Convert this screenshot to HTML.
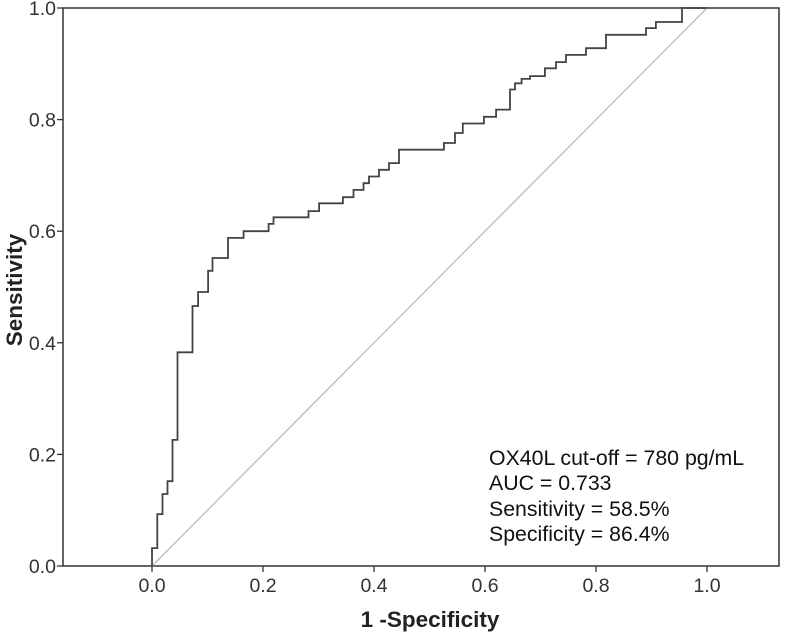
<!DOCTYPE html>
<html><head><meta charset="utf-8"><style>
body{margin:0;background:#fff}
svg{display:block;font-family:"Liberation Sans",Arial,sans-serif}
</style></head><body>
<svg id="chart" width="787" height="636" viewBox="0 0 787 636">
<rect width="787" height="636" fill="#fff"/>
<g id="plot"></g>
<text x="430" y="627" text-anchor="middle" font-size="22.5" font-weight="bold" fill="#222">1 -Specificity</text>
<text transform="translate(22,290) rotate(-90)" text-anchor="middle" font-size="22.5" font-weight="bold" fill="#222">Sensitivity</text>
<g font-size="21.3" fill="#111">
<text x="489" y="465">OX40L cut-off = 780 pg/mL</text>
<text x="489" y="490">AUC  = 0.733</text>
<text x="489" y="516">Sensitivity = 58.5%</text>
<text x="489" y="541">Specificity = 86.4%</text>
</g>
</svg>
<script>
const fpr=[0,0,0.0096,0.0096,0.019,0.019,0.028,0.028,0.037,0.037,0.046,0.046,0.073,0.073,0.083,0.083,0.101,0.101,0.109,0.109,0.137,0.137,0.165,0.165,0.210,0.210,0.219,0.219,0.282,0.282,0.301,0.301,0.344,0.344,0.363,0.363,0.381,0.381,0.391,0.391,0.409,0.409,0.427,0.427,0.445,0.445,0.526,0.526,0.546,0.546,0.560,0.560,0.598,0.598,0.620,0.620,0.645,0.645,0.654,0.654,0.666,0.666,0.681,0.681,0.708,0.708,0.728,0.728,0.746,0.746,0.782,0.782,0.818,0.818,0.890,0.890,0.908,0.908,0.955,0.955,1.0];
const tpr=[0,0.032,0.032,0.093,0.093,0.129,0.129,0.152,0.152,0.226,0.226,0.383,0.383,0.466,0.466,0.491,0.491,0.529,0.529,0.552,0.552,0.588,0.588,0.600,0.600,0.613,0.613,0.625,0.625,0.636,0.636,0.650,0.650,0.661,0.661,0.674,0.674,0.686,0.686,0.698,0.698,0.710,0.710,0.722,0.722,0.746,0.746,0.758,0.758,0.776,0.776,0.793,0.793,0.805,0.805,0.818,0.818,0.854,0.854,0.865,0.865,0.873,0.873,0.878,0.878,0.892,0.892,0.903,0.903,0.916,0.916,0.928,0.928,0.952,0.952,0.964,0.964,0.975,0.975,1.0,1.0];
const xTicks=[0,0.2,0.4,0.6,0.8,1.0];
const xTickLabels=["0.0","0.2","0.4","0.6","0.8","1.0"];
const yTicks=[0,0.2,0.4,0.6,0.8,1.0];
const yTickLabels=["0.0","0.2","0.4","0.6","0.8","1.0"];
const NS="http://www.w3.org/2000/svg";
const X=v=>152+555*v, Y=v=>566-558*v;
const g=document.getElementById('plot');
function mk(t,a){const e=document.createElementNS(NS,t);for(const k in a)e.setAttribute(k,a[k]);g.appendChild(e);return e;}
const frame=mk('rect',{x:63,y:8,width:716,height:558,fill:'none',stroke:'#333','stroke-width':1.5});


const diag=mk('line',{x1:X(0),y1:Y(0),x2:X(1),y2:Y(1),stroke:'#bbb','stroke-width':1.3});


xTicks.forEach((v,i)=>{
 const t=mk('line',{x1:X(v),y1:566,x2:X(v),y2:572,stroke:'#333','stroke-width':1.3});
 
 
 const l=mk('text',{x:X(v),y:592,'text-anchor':'middle','font-size':19.5,fill:'#333'});
 l.textContent=xTickLabels[i];
 
 
});
yTicks.forEach((v,i)=>{
 const t=mk('line',{x1:57,y1:Y(v),x2:63,y2:Y(v),stroke:'#333','stroke-width':1.3});
 
 
 const l=mk('text',{x:56,y:Y(v)+7,'text-anchor':'end','font-size':19.5,fill:'#333'});
 l.textContent=yTickLabels[i];
 
 
});
const pts=fpr.map((f,i)=>X(f).toFixed(1)+','+Y(tpr[i]).toFixed(1)).join(' ');
const roc=mk('polyline',{points:pts,fill:'none',stroke:'#444','stroke-width':1.8});


</script>
</body></html>
